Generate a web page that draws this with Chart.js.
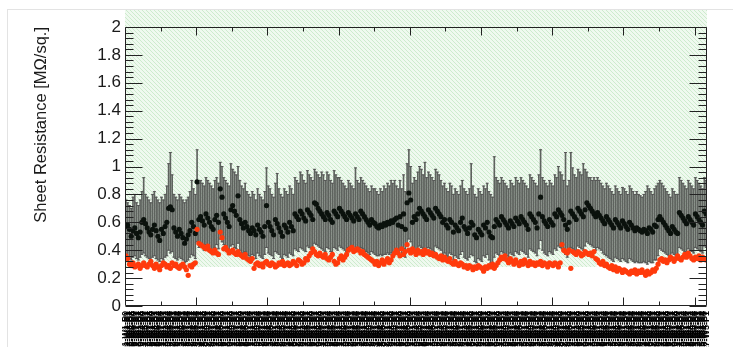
<!DOCTYPE html>
<html lang="en">
<head>
<meta charset="UTF-8">
<title>Sheet Resistance</title>
<script src="https://cdn.jsdelivr.net/npm/chart.js"></script>
<style>
  html, body { margin: 0; padding: 0; background: #fff; overflow: hidden; }
  #page { position: absolute; left: 7px; top: 9px; right: 0; bottom: 0;
          border-left: 1px solid #e3e3e3; border-top: 1px solid #e3e3e3; }
  #wrap { position: absolute; left: 0; top: 0; width: 733px; height: 347px; }
</style>
</head>
<body>
<div id="page"></div>
<div id="wrap"><canvas id="sheetChart" width="733" height="347"></canvas></div>
<script>
// measured sheet resistance per sample (black, with error bars) [MOhm/sq.]
const measured = [
  0.57,0.58,0.55,0.50,0.54,0.56,0.52,0.49,0.53,0.60,
  0.62,0.59,0.56,0.53,0.51,0.55,0.58,0.54,0.50,0.47,
  0.55,0.52,0.57,0.60,0.70,0.71,0.69,0.56,0.53,0.50,
  0.55,0.52,0.49,0.45,0.48,0.51,0.54,0.60,0.57,0.52,
  0.89,0.62,0.64,0.61,0.58,0.66,0.63,0.60,0.57,0.55,
  0.62,0.65,0.60,0.84,0.78,0.66,0.63,0.60,0.57,0.69,
  0.72,0.68,0.65,0.79,0.62,0.59,0.56,0.60,0.57,0.54,
  0.52,0.56,0.54,0.51,0.58,0.55,0.53,0.50,0.57,0.72,
  0.60,0.57,0.54,0.51,0.62,0.59,0.56,0.53,0.50,0.58,
  0.56,0.53,0.60,0.57,0.54,0.66,0.64,0.62,0.68,0.66,
  0.63,0.61,0.69,0.67,0.65,0.62,0.74,0.73,0.70,0.68,
  0.66,0.64,0.62,0.67,0.65,0.62,0.60,0.68,0.66,0.64,
  0.70,0.68,0.66,0.64,0.62,0.67,0.65,0.63,0.61,0.66,
  0.64,0.62,0.68,0.66,0.64,0.62,0.60,0.58,0.62,0.60,
  0.59,0.57,0.56,0.58,0.57,0.59,0.58,0.60,0.59,0.61,
  0.60,0.62,0.63,0.58,0.64,0.57,0.66,0.55,0.74,0.81,
  0.76,0.60,0.64,0.62,0.66,0.70,0.68,0.66,0.64,0.62,
  0.69,0.67,0.65,0.63,0.70,0.68,0.66,0.64,0.60,0.62,
  0.58,0.56,0.62,0.60,0.53,0.58,0.56,0.54,0.60,0.63,
  0.57,0.55,0.52,0.56,0.60,0.58,0.51,0.49,0.55,0.53,
  0.51,0.58,0.56,0.60,0.53,0.50,0.49,0.57,0.62,0.60,
  0.58,0.64,0.62,0.60,0.58,0.56,0.61,0.59,0.57,0.63,
  0.61,0.59,0.64,0.62,0.60,0.58,0.55,0.66,0.64,0.62,
  0.60,0.56,0.66,0.78,0.64,0.61,0.59,0.57,0.62,0.60,
  0.58,0.66,0.64,0.69,0.67,0.65,0.62,0.58,0.55,0.60,
  0.68,0.66,0.64,0.62,0.70,0.68,0.66,0.64,0.69,0.74,
  0.72,0.70,0.68,0.66,0.64,0.67,0.65,0.63,0.61,0.59,
  0.64,0.62,0.60,0.58,0.56,0.62,0.60,0.58,0.56,0.61,
  0.59,0.57,0.55,0.60,0.58,0.56,0.54,0.56,0.55,0.54,
  0.53,0.55,0.54,0.52,0.56,0.55,0.53,0.58,0.57,0.62,
  0.64,0.62,0.60,0.58,0.56,0.54,0.52,0.57,0.55,0.53,
  0.52,0.67,0.65,0.63,0.61,0.59,0.64,0.62,0.60,0.58,
  0.66,0.64,0.62,0.60,0.58,0.68,0.66
];

// upper end of each error bar
const errHigh = [
  0.76,0.74,0.72,0.70,0.78,0.80,0.74,0.72,0.76,0.82,
  0.92,0.80,0.78,0.76,0.74,0.80,0.82,0.78,0.76,0.74,
  0.78,0.76,0.80,0.86,1.02,1.10,0.94,0.80,0.78,0.76,
  0.80,0.78,0.76,0.74,0.76,0.78,0.82,0.90,0.84,0.80,
  1.12,0.88,0.90,0.88,0.86,0.92,0.90,0.88,0.86,0.84,
  0.90,0.92,0.88,1.03,1.00,0.92,0.90,0.88,0.86,1.02,
  0.98,0.96,0.94,1.00,0.90,0.86,0.84,0.88,0.82,0.80,
  0.78,0.82,0.80,0.76,0.84,0.80,0.78,0.76,0.82,0.99,
  0.86,0.84,0.80,0.78,0.88,0.95,0.84,0.80,0.78,0.84,
  0.82,0.80,0.86,0.84,0.80,0.92,0.90,0.88,0.96,0.94,
  0.90,0.88,0.97,0.94,0.92,0.90,0.98,0.96,0.94,0.92,
  0.96,0.94,0.90,0.96,0.94,0.90,0.88,0.97,0.94,0.92,
  0.92,0.90,0.88,0.86,0.84,0.90,0.88,0.86,0.84,0.99,
  0.90,0.88,0.92,0.90,0.88,0.86,0.84,0.82,0.86,0.84,
  0.84,0.82,0.80,0.84,0.82,0.86,0.84,0.88,0.86,0.90,
  0.88,0.90,0.86,0.84,0.90,0.84,0.94,0.82,1.02,1.12,
  1.00,0.88,0.92,0.90,0.96,1.00,0.98,0.94,1.03,0.92,
  0.96,0.94,0.92,0.90,0.98,0.96,0.94,0.90,0.86,0.88,
  0.84,0.82,0.88,0.86,0.80,0.84,0.82,0.80,0.86,0.90,
  0.84,0.82,0.80,0.84,1.02,0.86,0.80,0.78,0.84,0.82,
  0.80,0.86,0.84,0.88,0.82,0.80,0.78,1.07,0.92,0.90,
  0.88,0.92,0.90,0.88,0.86,0.84,0.90,0.88,0.86,0.92,
  0.90,0.88,0.92,0.90,0.88,0.86,0.84,0.94,0.92,0.90,
  0.88,0.86,0.94,1.12,0.92,0.90,0.88,0.86,0.90,0.88,
  0.86,0.94,0.92,1.00,0.96,0.94,0.90,1.10,0.86,0.90,
  1.10,0.99,0.94,0.92,0.98,0.96,0.94,1.02,0.98,0.96,
  0.92,0.92,0.90,0.92,0.90,0.92,0.90,0.88,0.86,0.84,
  0.88,0.86,0.84,0.82,0.80,0.86,0.84,0.82,0.80,0.85,
  0.84,0.82,0.80,0.86,0.84,0.82,0.80,0.82,0.80,0.79,
  0.78,0.80,0.82,0.86,0.84,0.82,0.80,0.84,0.86,0.88,
  0.90,0.88,0.86,0.84,0.82,0.80,0.78,0.84,0.82,0.80,
  0.80,0.92,0.90,0.88,0.86,0.84,0.90,0.88,0.86,0.84,
  0.92,0.90,0.88,0.86,0.84,0.92,0.90
];

// lower end of each error bar
const errLow = [
  0.36,0.35,0.34,0.33,0.35,0.36,0.34,0.33,0.35,0.37,
  0.38,0.36,0.35,0.34,0.33,0.35,0.36,0.34,0.33,0.32,
  0.34,0.33,0.35,0.36,0.40,0.38,0.39,0.35,0.34,0.33,
  0.35,0.34,0.33,0.31,0.32,0.33,0.35,0.37,0.36,0.34,
  0.46,0.42,0.43,0.42,0.40,0.44,0.43,0.41,0.40,0.39,
  0.42,0.44,0.41,0.48,0.46,0.44,0.42,0.41,0.39,0.43,
  0.44,0.42,0.41,0.45,0.40,0.38,0.37,0.39,0.37,0.36,
  0.35,0.37,0.36,0.34,0.38,0.36,0.35,0.34,0.37,0.42,
  0.38,0.37,0.36,0.34,0.39,0.38,0.37,0.35,0.34,0.37,
  0.36,0.35,0.38,0.37,0.36,0.41,0.40,0.39,0.42,0.41,
  0.40,0.39,0.43,0.42,0.41,0.40,0.45,0.44,0.43,0.42,
  0.41,0.40,0.39,0.42,0.41,0.39,0.38,0.42,0.41,0.40,
  0.43,0.42,0.41,0.40,0.39,0.42,0.41,0.40,0.39,0.41,
  0.40,0.39,0.42,0.41,0.40,0.39,0.38,0.37,0.39,0.38,
  0.37,0.36,0.36,0.37,0.36,0.37,0.37,0.38,0.37,0.38,
  0.38,0.39,0.39,0.37,0.40,0.36,0.41,0.35,0.44,0.48,
  0.46,0.38,0.40,0.39,0.41,0.43,0.42,0.41,0.40,0.39,
  0.42,0.41,0.40,0.39,0.43,0.42,0.41,0.40,0.37,0.38,
  0.36,0.35,0.38,0.37,0.33,0.36,0.35,0.34,0.37,0.39,
  0.35,0.34,0.33,0.35,0.37,0.36,0.32,0.31,0.34,0.33,
  0.32,0.36,0.35,0.37,0.33,0.31,0.31,0.35,0.38,0.37,
  0.36,0.39,0.38,0.37,0.36,0.35,0.38,0.37,0.36,0.39,
  0.38,0.37,0.40,0.39,0.38,0.37,0.35,0.41,0.40,0.39,
  0.38,0.36,0.41,0.47,0.40,0.38,0.37,0.36,0.39,0.38,
  0.37,0.41,0.40,0.43,0.42,0.41,0.39,0.37,0.35,0.38,
  0.42,0.41,0.40,0.39,0.43,0.42,0.41,0.40,0.43,0.46,
  0.45,0.44,0.43,0.42,0.40,0.42,0.41,0.40,0.38,0.37,
  0.36,0.35,0.34,0.33,0.32,0.35,0.34,0.33,0.32,0.34,
  0.33,0.32,0.31,0.34,0.33,0.32,0.31,0.32,0.31,0.31,
  0.31,0.32,0.31,0.30,0.32,0.31,0.31,0.33,0.33,0.36,
  0.41,0.40,0.39,0.38,0.37,0.36,0.35,0.38,0.37,0.36,
  0.35,0.42,0.41,0.40,0.39,0.38,0.41,0.40,0.39,0.38,
  0.42,0.41,0.40,0.39,0.38,0.43,0.42
];

// second measurement (red markers)
const reference = [
  0.36,0.34,0.30,0.29,0.31,0.28,0.29,0.30,0.27,0.29,
  0.31,0.29,0.28,0.30,0.32,0.29,0.27,0.30,0.28,0.26,
  0.29,0.31,0.30,0.28,0.29,0.27,0.31,0.29,0.30,0.28,
  0.27,0.29,0.30,0.28,0.26,0.22,0.29,0.28,0.30,0.31,
  0.55,0.45,0.44,0.43,0.42,0.41,0.43,0.40,0.39,0.38,
  0.40,0.38,0.37,0.53,0.49,0.41,0.42,0.40,0.38,0.39,
  0.40,0.38,0.37,0.39,0.37,0.36,0.35,0.37,0.34,0.33,
  0.32,0.34,0.27,0.30,0.31,0.29,0.30,0.28,0.31,0.32,
  0.30,0.29,0.31,0.30,0.28,0.29,0.31,0.30,0.32,0.29,
  0.30,0.31,0.29,0.30,0.32,0.31,0.29,0.33,0.32,0.30,
  0.31,0.34,0.33,0.36,0.38,0.41,0.39,0.37,0.36,0.38,
  0.36,0.35,0.37,0.34,0.33,0.35,0.37,0.32,0.30,0.31,
  0.34,0.36,0.33,0.35,0.37,0.40,0.41,0.42,0.39,0.40,
  0.41,0.40,0.38,0.39,0.37,0.36,0.35,0.34,0.33,0.32,
  0.30,0.32,0.29,0.31,0.33,0.30,0.32,0.34,0.31,0.33,
  0.36,0.38,0.40,0.38,0.36,0.41,0.37,0.39,0.44,0.40,
  0.38,0.41,0.39,0.37,0.40,0.38,0.39,0.37,0.40,0.38,
  0.39,0.37,0.38,0.36,0.37,0.35,0.34,0.36,0.33,0.35,
  0.33,0.32,0.34,0.31,0.30,0.32,0.30,0.29,0.31,0.30,
  0.28,0.29,0.27,0.29,0.28,0.26,0.28,0.27,0.29,0.28,
  0.27,0.25,0.28,0.27,0.29,0.28,0.30,0.27,0.29,0.31,
  0.33,0.35,0.34,0.36,0.33,0.31,0.34,0.32,0.30,0.33,
  0.31,0.29,0.32,0.30,0.33,0.31,0.29,0.32,0.30,0.31,
  0.29,0.31,0.30,0.32,0.29,0.31,0.30,0.28,0.31,0.30,
  0.29,0.31,0.30,0.28,0.31,0.44,0.40,0.39,0.38,0.40,
  0.27,0.39,0.38,0.37,0.39,0.38,0.36,0.37,0.39,0.38,
  0.37,0.38,0.36,0.39,0.34,0.33,0.31,0.30,0.32,0.29,
  0.30,0.28,0.27,0.29,0.26,0.28,0.25,0.27,0.26,0.24,
  0.26,0.25,0.24,0.23,0.25,0.24,0.26,0.23,0.25,0.24,
  0.26,0.24,0.22,0.25,0.23,0.24,0.26,0.25,0.27,0.30,
  0.33,0.34,0.32,0.33,0.31,0.33,0.35,0.34,0.32,0.34,
  0.36,0.34,0.33,0.35,0.37,0.35,0.38,0.36,0.34,0.33,
  0.35,0.34,0.36,0.33,0.35,0.34,0.33
];

// hatched acceptance band: lower edge, by sample index where it starts
const bandStart = [0, 40, 265, 298];
const bandLow = [0.28, 0.28, 0.31, 0.34];

// sample names under the x axis (unreadable in the original, kept as text)
const sampleLabels = measured.map((_, i) => 'SR' + String(1001 + i) + '-W' + (i % 7 + 1) + '-P' + (i % 5));

const yMax = 2;

Chart.defaults.font.family = "'Liberation Sans', Arial, sans-serif";

// diagonal green hatch tile
const hatchTile = document.createElement('canvas');
hatchTile.width = 4;
hatchTile.height = 4;
(function () {
  const g = hatchTile.getContext('2d');
  g.fillStyle = '#eff9ef';
  g.fillRect(0, 0, 4, 4);
  g.fillStyle = '#cdebcd';
  for (let i = 0; i < 4; i++) g.fillRect(i, i, 1, 1);
})();

// ROOT-like frame: hatch band behind, frame and inward ticks on top
const rootFrame = {
  id: 'rootFrame',
  beforeDatasetsDraw(chart) {
    const { ctx, chartArea: a, scales: { x, y } } = chart;
    ctx.save();
    ctx.fillStyle = ctx.createPattern(hatchTile, 'repeat');
    ctx.beginPath();
    ctx.moveTo(a.left, a.top - 17);
    ctx.lineTo(a.right, a.top - 17);
    for (let k = bandStart.length - 1; k >= 0; k--) {
      const x1 = k + 1 < bandStart.length ? x.getPixelForValue(bandStart[k + 1] - 0.5) : a.right;
      const x0 = x.getPixelForValue(bandStart[k] - 0.5);
      const yy = y.getPixelForValue(bandLow[k]);
      ctx.lineTo(x1, yy);
      ctx.lineTo(x0, yy);
    }
    ctx.closePath();
    ctx.fill();
    ctx.restore();
  },
  afterDatasetsDraw(chart) {
    const { ctx, chartArea: a, scales: { x, y } } = chart;
    const L = Math.round(a.left) + 0.5, R = Math.round(a.right) - 0.5;
    const T = Math.round(a.top) + 0.5, B = Math.round(a.bottom) - 0.5;
    ctx.save();
    ctx.strokeStyle = '#222';
    ctx.lineWidth = 1;
    ctx.beginPath();
    ctx.rect(L, T, R - L, B - T);
    // y ticks, 5 minor per major
    for (let k = 0; k <= 50; k++) {
      const py = Math.round(y.getPixelForValue(k * 0.04)) + 0.5;
      const len = k % 5 === 0 ? 17 : 8;
      ctx.moveTo(L, py); ctx.lineTo(L + len, py);
      ctx.moveTo(R, py); ctx.lineTo(R - len, py);
    }
    // x ticks every 20 samples, longer every 40
    for (let k = 20; k < measured.length; k += 20) {
      const px = Math.round(x.getPixelForValue(k - 0.5)) + 0.5;
      const len = k % 40 === 0 ? 8 : 4;
      ctx.moveTo(px, B); ctx.lineTo(px, B - len);
      ctx.moveTo(px, T); ctx.lineTo(px, T + len);
    }
    ctx.stroke();
    ctx.restore();
  }
};

new Chart(document.getElementById('sheetChart'), {
  type: 'scatter',
  data: {
    datasets: [
      {
        type: 'scatter',
        label: 'Second measurement',
        data: reference.map((v, i) => ({ x: i, y: v })),
        pointRadius: 2.6,
        backgroundColor: '#ff3a0c',
        borderWidth: 0,
        order: 0
      },
      {
        type: 'scatter',
        label: 'Sheet resistance',
        data: measured.map((v, i) => ({ x: i, y: v })),
        pointRadius: 2.6,
        backgroundColor: '#0b120d',
        borderWidth: 0,
        order: 1
      },
      {
        type: 'scatter',
        label: 'caps',
        data: errHigh.map((v, i) => ({ x: i, y: v })).concat(errLow.map((v, i) => ({ x: i, y: v }))),
        pointStyle: 'line',
        pointRadius: 1.5,
        borderColor: '#555',
        borderWidth: 1,
        order: 2
      },
      {
        type: 'bar',
        label: 'errors',
        data: errLow.map((v, i) => ({ x: i, y: [v, errHigh[i]] })),
        backgroundColor: '#5e625e',
        barThickness: 1,
        order: 3
      }
    ]
  },
  options: {
    responsive: false,
    animation: false,
    events: [],
    layout: { padding: { left: 0, top: 27, right: 26, bottom: 0 } },
    plugins: { legend: { display: false }, tooltip: { enabled: false } },
    scales: {
      x: {
        type: 'linear',
        min: -0.5,
        max: measured.length - 0.5,
        offset: false,
        grid: { display: false, drawTicks: false },
        border: { display: false },
        afterBuildTicks: (s) => { s.ticks = sampleLabels.map((_, i) => ({ value: i })); },
        ticks: {
          autoSkip: false,
          minRotation: 90,
          maxRotation: 90,
          padding: 5,
          color: '#000',
          font: { size: 9, weight: 'bold' },
          callback: (v) => sampleLabels[v]
        },
        afterFit: (s) => { s.height = 41; }
      },
      y: {
        type: 'linear',
        min: 0,
        max: yMax,
        grid: { display: false, drawTicks: false },
        border: { display: false },
        ticks: {
          stepSize: 0.2,
          padding: 4,
          color: '#1a1a1a',
          font: { size: 17 },
          callback: (v) => String(Math.round(v * 10) / 10)
        },
        title: {
          display: true,
          text: 'Sheet Resistance [MΩ/sq.]',
          align: 'end',
          color: '#1a1a1a',
          font: { size: 16.5 },
          padding: { top: 32, bottom: 0 }
        },
        afterFit: (s) => { s.width = 125; }
      }
    }
  },
  plugins: [rootFrame]
});
</script>
</body>
</html>
